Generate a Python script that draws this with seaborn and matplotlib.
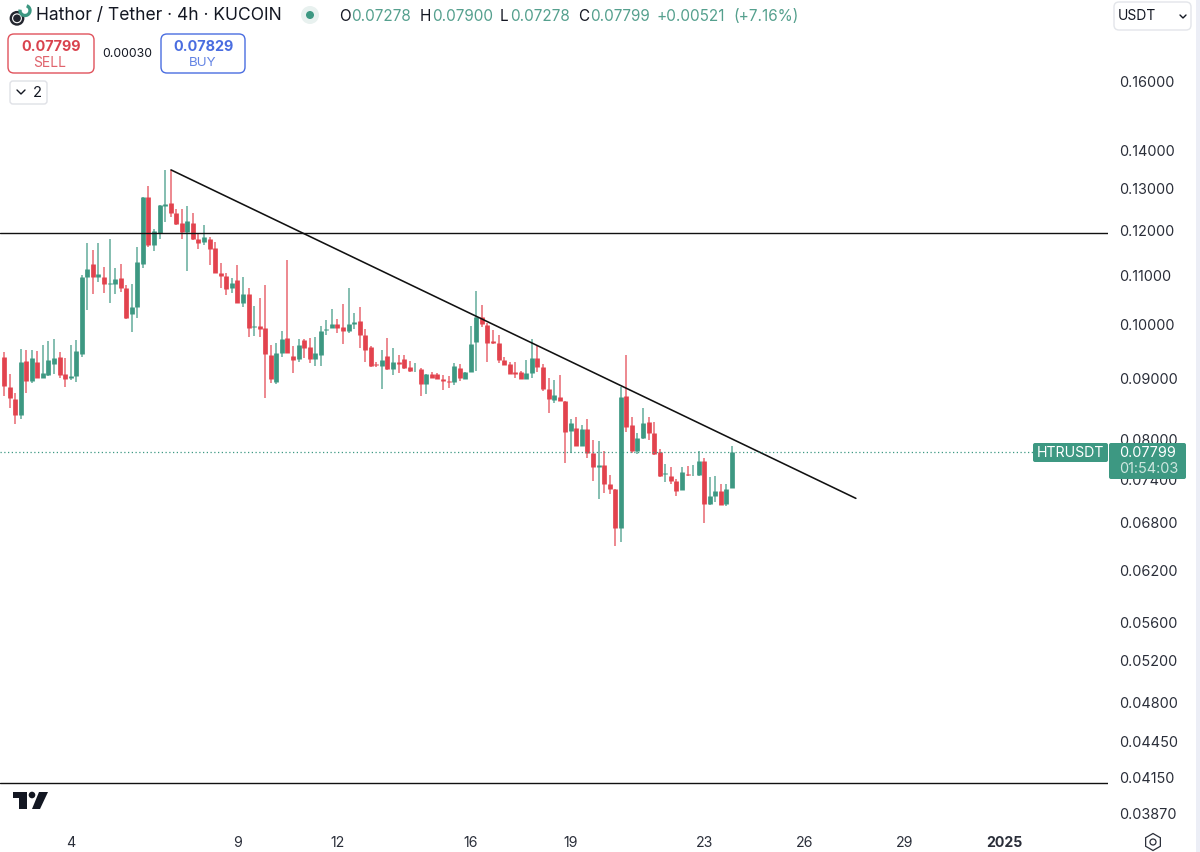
import matplotlib
matplotlib.use("Agg")
import matplotlib.pyplot as plt
from matplotlib.patches import Circle, FancyBboxPatch, Polygon, Rectangle, RegularPolygon, Arc
import numpy as np
import pandas as pd
import seaborn as sns

# 4h candles
opens = [.09380, .09385, .08843, .08644, .08380, .09312, .08957, .09289, .09015, .09057, .09257, .09374, .09070, .09015,
         .09045, .09435, .10956, .11230, .10963, .10963, .10815, .10808, .10928, .10725, .10195, .10337, .11237, .12797,
         .11658, .11940, .12583, .12656, .12398, .12157, .11956, .12173, .11802, .11727, .11788, .11584, .11048, .10984,
         .10718, .10886, .10423, .10607, .09935, .09961, .09923, .09422, .08940, .09459, .09733, .09403, .09343, .09688,
         .09557, .09349, .09422, .09878, .09923, .10000, .09935, .09871, .10006, .10052, .09793, .09565, .09257, .09216,
         .09392, .09157, .09284, .09343, .09198, .09122, .09163, .08900, .09070, .09070, .08987, .08957, .08930, .09175,
         .08992, .09110, .09657, .10131, .09986, .09681, .09637, .09330, .09247, .09105, .09115, .08987, .09097, .09356,
         .09204, .08814, .08627, .08678, .08610, .08123, .08166, .07898, .08155, .07788, .07579, .07604, .07337, .07257,
         .06732, .08690, .08214, .07814, .08009, .08262, .08091, .07794, .07482, .07443, .07371, .07247, .07471, .07457,
         .07457, .07663, .07049, .07159, .07233, .07049, .07278]
highs = [.09471, .09477, .09075, .08741, .09521, .09508, .09508, .09484, .09600, .09681, .09707, .09477, .09356, .09606,
         .09694, .10990, .11697, .11545, .11697, .11164, .11795, .11142, .11243, .10787, .10800, .11618, .12800, .13082,
         .12020, .12610, .13486, .13486, .12495, .12495, .12576, .12398, .11926, .12110, .11835, .11734, .11255, .11048,
         .10928, .11209, .10963, .10718, .10365, .10512, .10787, .09600, .09643, .09871, .11323, .09584, .09707, .09707,
         .09733, .09746, .09961, .10078, .10290, .10092, .10395, .10731, .10222, .10331, .09897, .09584, .09294, .09508,
         .09733, .09545, .09410, .09410, .09301, .09276, .09192, .09075, .09110, .09086, .09057, .09040, .09276, .09252,
         .09115, .09961, .10656, .10375, .10014, .09884, .09787, .09374, .09294, .09294, .09133, .09325, .09712, .09577,
         .09247, .08998, .08969, .09057, .08610, .08310, .08344, .08219, .08320, .07982, .07971, .07818, .07457, .07257,
         .08853, .09416, .08344, .08096, .08489, .08355, .08262, .07845, .07629, .07579, .07410, .07579, .07589, .07604,
         .07824, .07704, .07433, .07443, .07337, .07337, .07900]
lows = [.09110, .08695, .08489, .08235, .08320, .08752, .08913, .09000, .09000, .09040, .09075, .09015, .08853, .08969,
        .08940, .09385, .10276, .10594, .10844, .10619, .10423, .10597, .10649, .10100, .09850, .10111, .11154, .11618,
        .11523, .11788, .12196, .12304, .12118, .11788, .11091, .11772, .11561, .11658, .11215, .11034, .10731, .10580,
        .10615, .10410, .10331, .09756, .09770, .09756, .08661, .08922, .08895, .09374, .09450, .09097, .09294, .09367,
        .09264, .09220, .09220, .09800, .09917, .09820, .09618, .09832, .09897, .09551, .09294, .09204, .09204, .08820,
        .09145, .09057, .09097, .09157, .09115, .09115, .08695, .08724, .09004, .08981, .08797, .08838, .08883, .08952,
        .08987, .09105, .09122, .09948, .09284, .09613, .09264, .09233, .09075, .09000, .08981, .08981, .09000, .09115,
        .08785, .08423, .08581, .08605, .07644, .07779, .07892, .07892, .07704, .07371, .07128, .07211, .07197, .06497,
        .06547, .08112, .07788, .07769, .08005, .07993, .07749, .07428, .07360, .07328, .07164, .07243, .07447, .07452,
        .07452, .06797, .07045, .07080, .07035, .07027, .07278]
closes = [.09216, .08870, .08656, .08380, .09289, .08957, .09356, .09015, .09097, .09320, .09367, .09057, .08992, .09045,
          .09490, .10963, .11128, .10963, .11020, .10800, .10830, .10913, .10725, .10111, .10331, .11277, .12790, .11658,
          .11980, .12600, .12625, .12405, .12148, .11956, .12214, .11802, .11697, .11835, .11575, .11041, .10977, .10710,
          .10825, .10423, .10607, .09923, .09961, .09903, .09435, .08981, .09447, .09707, .09459, .09330, .09606, .09545,
          .09349, .09447, .09871, .09903, .09994, .09929, .09871, .10000, .10039, .09785, .09513, .09211, .09233, .09320,
          .09157, .09289, .09257, .09181, .09127, .09133, .08900, .09070, .09015, .08987, .08947, .08940, .09211, .09004,
          .09110, .09625, .10137, .09994, .09643, .09632, .09325, .09240, .09081, .09081, .08987, .09092, .09356, .09204,
          .08809, .08644, .08712, .08610, .08112, .08250, .07898, .08155, .07779, .07574, .07600, .07337, .07257, .06732,
          .08683, .08192, .07814, .08009, .08250, .08087, .07764, .07447, .07496, .07381, .07233, .07501, .07457, .07466,
          .07663, .07049, .07159, .07239, .07045, .07267, .07799]

# price axis and date axis
price_ticks = [.16, .14, .13, .12, .11, .10, .09, .08, .074, .068, .062, .056, .052, .048, .0445, .0415, .0387]
date_ticks = [13, 43, 61, 85, 103, 127, 145, 163, 181]
date_labels = ["4", "9", "12", "16", "19", "23", "26", "29", "2025"]

# drawn levels
resistance = 0.1193
support = 0.0410
last_price = 0.07799
trend_x = [31.05, 154.3]
trend_y = [0.1349, 0.0713]

GREEN = "#3d9882"
SOFT_GREEN = "#55a08e"
RED = "#e2434e"
DARK = "#131722"

sns.set_theme(style="white")
plt.rcParams["font.family"] = ["Inter", "DejaVu Sans"]

candles = pd.DataFrame({"n": np.arange(len(opens)), "open": opens, "high": highs, "low": lows, "close": closes})
candles["dir"] = np.where(candles["close"] >= candles["open"], "up", "down")
wicks = candles.melt(id_vars=["n", "dir"], value_vars=["high", "low"], value_name="price")
bodies = candles.melt(id_vars=["n", "dir"], value_vars=["open", "close"], value_name="price")
palette = {"up": GREEN, "down": RED}

fig = plt.figure(figsize=(12, 8.52), dpi=100)
ax = fig.add_axes([0, 24 / 852, 1108 / 1200, 828 / 852])
ax.set_yscale("log")

sns.lineplot(data=wicks, x="n", y="price", hue="dir", units="n", estimator=None, palette=palette,
             linewidth=1.1, alpha=0.8, legend=False, solid_capstyle="butt", ax=ax)
sns.lineplot(data=bodies, x="n", y="price", hue="dir", units="n", estimator=None, palette=palette,
             linewidth=3.4, legend=False, solid_capstyle="butt", ax=ax)

sns.lineplot(x=trend_x, y=trend_y, color="#111111", linewidth=1.15, ax=ax)
ax.axhline(resistance, color="#111111", lw=1.0)
ax.axhline(support, color="#111111", lw=1.0)
ax.axhline(last_price, xmax=1033 / 1108, color=GREEN, lw=0.9, ls=(0, (1, 2)))

ax.set_xlim(0.28, 199.67)
ax.set_ylim(0.0376, 0.1876)
ax.set_xlabel("")
ax.set_ylabel("")
ax.yaxis.tick_right()
ax.set_yticks(price_ticks)
ax.set_yticklabels([f"{p:.5f}" for p in price_ticks])
ax.minorticks_off()
ax.set_xticks(date_ticks)
ax.set_xticklabels(date_labels)
ax.tick_params(axis="y", length=0, pad=8, labelsize=10.4, labelcolor="#2a2e39")
ax.tick_params(axis="x", length=0, pad=6, labelsize=10.2, labelcolor="#2a2e39")
ax.get_xticklabels()[-1].set_fontweight("bold")
for tick_label in ax.get_yticklabels():
    tick_label.set_va("center_baseline")
sns.despine(ax=ax, left=True, bottom=True, right=True, top=True)
ax.patch.set_alpha(0)

# interface parts, in pixel coordinates of the screenshot
ui = fig.add_axes([0, 0, 1, 1], zorder=5)
ui.set_xlim(0, 1200)
ui.set_ylim(852, 0)
ui.axis("off")


def label(x, y, s, size=10.4, color=DARK, ha="left", **kw):
    ui.text(x, y + 1.3, s, fontsize=size, color=color, ha=ha, va="center", **kw)


def box(x0, y0, x1, y1, edge, face="white", radius=5, lw=1.0):
    ui.add_patch(FancyBboxPatch((x0, y0), x1 - x0, y1 - y0, boxstyle=f"round,pad=0,rounding_size={radius}",
                                fc=face, ec=edge, lw=lw))


# right edge strip
ui.add_patch(Rectangle((1196, 0), 4, 852, fc="#eceef6", ec="none"))

# symbol logo and title
ui.add_patch(Circle((17, 18.3), 7.4, fc="#23262e", ec="none"))
ui.add_patch(Circle((17, 18.3), 4.4, fc="none", ec="white", lw=0.8))
ui.add_patch(Arc((25, 10.5), 10, 10, theta1=-70, theta2=190, ec=GREEN, lw=2.4))
label(36, 14.5, "Hathor / Tether · 4h · KUCOIN", size=12.6)

# market status dot
ui.add_patch(Circle((310, 15), 9, fc="#e8f1ef", ec="none"))
ui.add_patch(Circle((310, 15), 4, fc=GREEN, ec="none"))

# OHLC row
for x, s, c in [(339, "O", DARK), (351, "0.07278", SOFT_GREEN), (420, "H", DARK), (432, "0.07900", SOFT_GREEN),
                (500, "L", DARK), (510, "0.07278", SOFT_GREEN), (578, "C", DARK), (590, "0.07799", SOFT_GREEN),
                (657, "+0.00521", SOFT_GREEN), (733, "(+7.16%)", SOFT_GREEN)]:
    label(x, 15, s, size=11, color=c)

# sell and buy buttons
box(8, 34, 94, 73, "#e0525c", radius=6)
label(51, 46, "0.07799", size=10.4, color="#d9434e", ha="center", fontweight="bold")
label(50, 62, "SELL", size=10, color="#e0636c", ha="center")
label(127, 53, "0.00030", size=8.8, ha="center")
box(161, 34, 245, 73, "#4a6de0", radius=6)
label(204, 46, "0.07829", size=10.4, color="#4a6de0", ha="center", fontweight="bold")
label(203, 62, "BUY", size=9.6, color="#6484e4", ha="center")

# collapsed indicators
box(10, 81, 47, 104, "#dfe1e6", radius=3)
ui.plot([17, 21, 25], [90, 94, 90], color=DARK, lw=1.0)
label(37, 92, "2", size=10.6, ha="center")

# currency selector
box(1114, 2, 1191, 30, "#e3e5ea", radius=5)
label(1118, 15, "USDT", size=10)
ui.plot([1180, 1183, 1186], [15, 18, 15], color=DARK, lw=1.0)

# symbol and price tags
ui.add_patch(FancyBboxPatch((1033, 443), 75, 19, boxstyle="round,pad=0,rounding_size=2", fc=GREEN, ec="none"))
ui.add_patch(FancyBboxPatch((1109, 443), 77, 36, boxstyle="round,pad=0,rounding_size=2", fc=GREEN, ec="none"))
label(1070.5, 451.5, "HTRUSDT", size=10.2, color="white", ha="center")
label(1119, 451.5, "0.07799", size=10.4, color="white")
label(1119, 468, "01:54:03", size=10.4, color="#cde6df")

# TradingView mark
ui.add_patch(Polygon([(13, 792), (27, 792), (27, 809), (19, 809), (19, 798), (13, 798)], fc="#131722", ec="none"))
ui.add_patch(Circle((32, 795), 3.3, fc="#131722", ec="none"))
ui.add_patch(Polygon([(39, 792), (48, 792), (40, 809), (32, 809)], fc="#131722", ec="none"))

# settings gear
ui.add_patch(RegularPolygon((1153, 842), 6, radius=8.5, fc="none", ec="#2a2e39", lw=0.9))
ui.add_patch(Circle((1153, 842), 3, fc="none", ec="#2a2e39", lw=0.9))

fig.savefig("out.png", dpi=100)
